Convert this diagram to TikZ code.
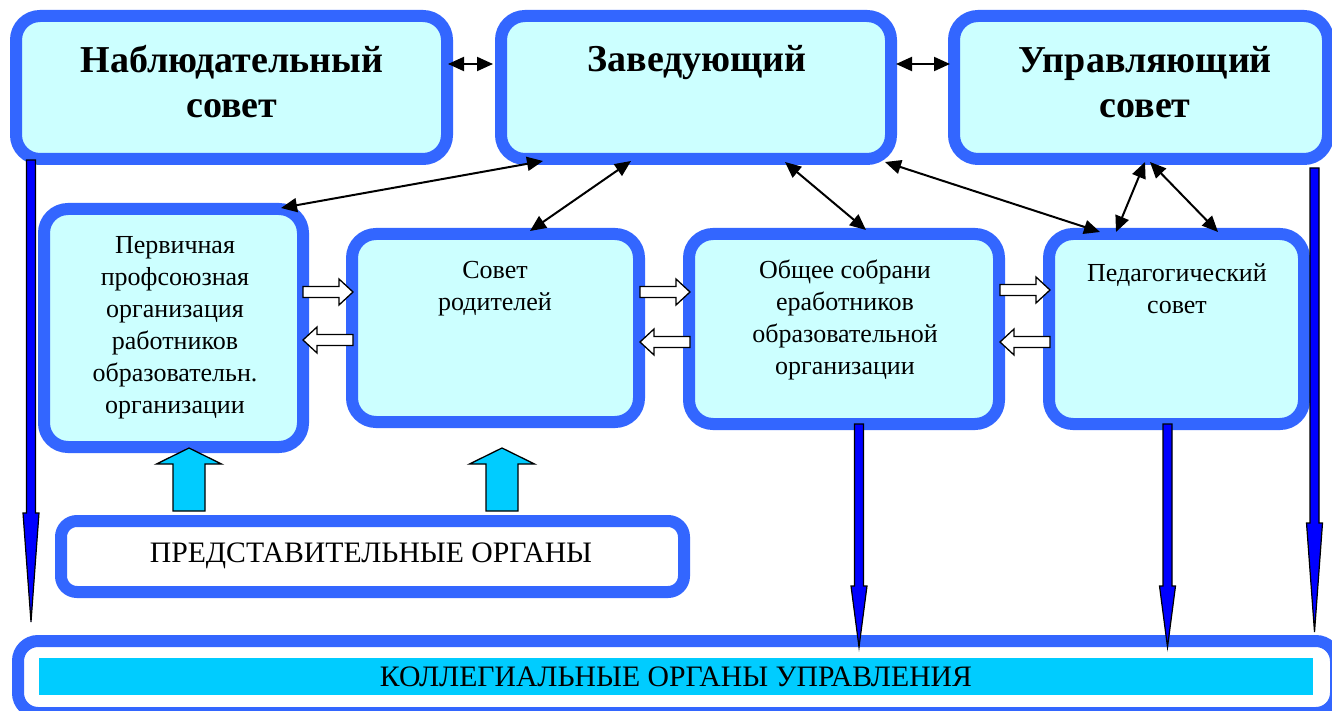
\documentclass[tikz,border=0pt]{standalone}
\usepackage{fontspec}
\setmainfont{Liberation Serif}
\usetikzlibrary{arrows.meta,calc}
\definecolor{bord}{HTML}{3366FF}
\definecolor{boxfill}{HTML}{CCFFFF}
\definecolor{cyanbar}{HTML}{00CCFF}
\definecolor{bluearr}{HTML}{0000FF}
\newcommand{\hollowRight}[3]{% x0 x1 y
  \filldraw[hollow] (#1,#3-5.5) -- (#2-14,#3-5.5) -- (#2-14,#3-13) -- (#2,#3) -- (#2-14,#3+13) -- (#2-14,#3+5.5) -- (#1,#3+5.5) -- cycle;}
\newcommand{\hollowLeft}[3]{% x0(tail) x1(tip) y
  \filldraw[hollow] (#1,#3-5.5) -- (#2+14,#3-5.5) -- (#2+14,#3-13) -- (#2,#3) -- (#2+14,#3+13) -- (#2+14,#3+5.5) -- (#1,#3+5.5) -- cycle;}
\newcommand{\upArrow}[1]{% center x
  \filldraw[uparr] (#1-16,511) -- (#1-16,464) -- (#1-32.5,464) -- (#1,448) -- (#1+32.5,464) -- (#1+16,464) -- (#1+16,511) -- cycle;}
\newcommand{\downArrow}[5]{% x, top, headbase, tip, head half width
  \filldraw[downarr] (#1-4.5,#2) -- (#1+4.5,#2) -- (#1+4.5,#3) -- (#1+#5,#3) -- (#1,#4) -- (#1-#5,#3) -- (#1-4.5,#3) -- cycle;}
\begin{document}
\begin{tikzpicture}[x=1pt,y=-1pt,
  box/.style={draw=bord,line width=12pt,fill=boxfill,rounded corners=24pt,inner sep=0pt,rectangle},
  bigtxt/.style={font=\fontsize{38}{45}\selectfont\bfseries,align=center,inner sep=0pt},
  txt/.style={font=\fontsize{26}{32}\selectfont,align=center,inner sep=0pt},
  captxt/.style={font=\fontsize{29.7}{34}\selectfont,inner sep=0pt},
  dbl/.style={{Triangle[length=16pt,width=14pt]}-{Triangle[length=16pt,width=14pt]},line width=2pt,black},
  hollow/.style={fill=white,draw=black,line width=1.3pt},
  uparr/.style={fill=cyanbar,draw=black,line width=1.3pt},
  downarr/.style={fill=bluearr,draw=black,line width=1.2pt,line join=miter}]
\useasboundingbox (0,0) rectangle (1332,711);
\fill[white] (0,0) rectangle (1332,711);

% top row
\node[box,minimum width=431pt,minimum height=143pt] (top1) at (231.5,87.5) {};
\node[box,minimum width=390pt,minimum height=143pt] (top2) at (696,87.5) {};
\node[box,minimum width=374pt,minimum height=143pt] (top3) at (1141,87.5) {};
\node[bigtxt] (t1) at (232,82) {Наблюдательный\\совет};
\node[bigtxt] (t2) at (697,63) {Заведующий};
\node[bigtxt] (t3) at (1145,82) {Управляющий\\совет};

% second row
\node[box,minimum width=259pt,minimum height=238pt] (b1) at (173.5,328) {};
\node[box,minimum width=287pt,minimum height=188pt] (b2) at (495.5,328) {};
\node[box,minimum width=310pt,minimum height=190pt] (b3) at (844,329) {};
\node[box,minimum width=255pt,minimum height=190pt] (b4) at (1176.5,329) {};
\node[txt] (tb1) at (175,328) {Первичная\\профсоюзная\\организация\\работников\\образовательн.\\организации};
\node[txt] (tb2) at (495,289) {Совет\\родителей};
\node[txt] (tb3) at (845,320) {Общее собрани\\еработников\\образовательной\\организации};
\node[txt] (tb4) at (1177,289) {Педагогический\\совет};

% representative bodies
\node[box,fill=white,rounded corners=16pt,minimum width=623pt,minimum height=71pt] (rep) at (372.5,556.5) {};
\node[captxt] (trep) at (371,556) {ПРЕДСТАВИТЕЛЬНЫЕ ОРГАНЫ};

% collegial bodies
\node[box,fill=white,rounded corners=20pt,minimum width=1318pt,minimum height=72pt] (coll) at (677,677) {};
\fill[cyanbar] (39,658) rectangle (1313,695);
\node[captxt] (tcoll) at (676,677) {КОЛЛЕГИАЛЬНЫЕ ОРГАНЫ УПРАВЛЕНИЯ};

% thin double arrows
\draw[dbl] ([yshift=23.5pt,xshift=-5pt]top1.east) -- ([yshift=23.5pt,xshift=-2pt]top2.west);
\draw[dbl] ([yshift=23.5pt,xshift=-1pt]top2.east) -- ([yshift=23.5pt,xshift=2pt]top3.west);
\coordinate (p1) at (281,208);
\coordinate (p2) at (543,161);
\draw[dbl] (p1) -- (p2);
\coordinate (p3) at (530,231);
\coordinate (p4) at (631,161);
\draw[dbl] (p3) -- (p4);
\coordinate (p5) at (785,162);
\coordinate (p6) at (866,230);
\draw[dbl] (p5) -- (p6);
\coordinate (p7) at (885,162);
\coordinate (p8) at (1100,232);
\draw[dbl] (p7) -- (p8);
\coordinate (p9) at (1145,162);
\coordinate (p10) at (1116,232);
\draw[dbl] (p9) -- (p10);
\coordinate (p11) at (1150,162);
\coordinate (p12) at (1218,232);
\draw[dbl] (p11) -- (p12);

% hollow arrows
\hollowRight{303}{353}{292}
\hollowLeft{353}{303}{340}
\hollowRight{640}{690}{292}
\hollowLeft{690}{640}{342}
\hollowRight{1000}{1050}{290}
\hollowLeft{1050}{1000}{342}

% cyan up arrows
\upArrow{189}
\upArrow{502}

% blue down arrows
\downArrow{31}{160}{513}{622}{8}
\downArrow{1314.5}{168}{523}{632}{8}
\downArrow{859}{424}{586}{647}{8}
\downArrow{1167.5}{424}{586}{647}{8}
\end{tikzpicture}
\end{document}
